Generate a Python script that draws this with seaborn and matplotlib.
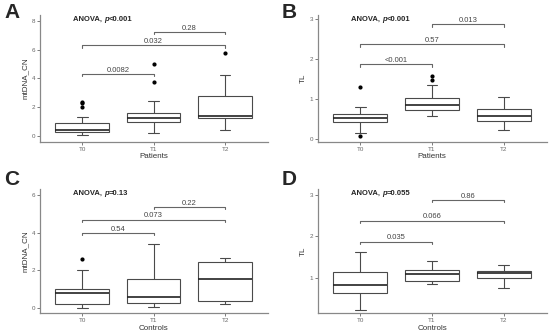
import numpy as np
import pandas as pd
import matplotlib
matplotlib.use("Agg")
import matplotlib.pyplot as plt
import seaborn as sns

times = ["T0", "T1", "T2"]

# values (whisker ends, quartiles, median, outliers)
a_t0 = [0.07, 0.07, 0.30, 0.30, 0.30, 0.44, 0.44, 0.44, 0.44, 0.90, 0.90, 0.90, 0.90, 1.36, 2.03, 2.30, 2.40]
a_t1 = [0.25, 0.25, 0.97, 0.97, 0.97, 1.27, 1.27, 1.27, 1.27, 1.64, 1.64, 1.64, 1.64, 2.42, 2.42, 3.73, 5.02]
a_t2 = [0.44, 0.44, 1.29, 1.29, 1.29, 1.43, 1.43, 1.43, 1.43, 2.81, 2.81, 2.81, 2.81, 4.26, 4.26, 4.26, 5.78]

b_t0 = [0.09, 0.16, 0.44, 0.44, 0.44, 0.54, 0.54, 0.54, 0.54, 0.63, 0.63, 0.63, 0.63, 0.80, 0.80, 0.80, 1.31]
b_t1 = [0.57, 0.57, 0.73, 0.73, 0.73, 0.86, 0.86, 0.86, 0.86, 1.02, 1.02, 1.02, 1.02, 1.36, 1.36, 1.48, 1.57]
b_t2 = [0.24, 0.24, 0.45, 0.45, 0.45, 0.58, 0.58, 0.58, 0.58, 0.76, 0.76, 0.76, 0.76, 1.05, 1.05, 1.05, 1.05]

c_t0 = [0.00, 0.00, 0.24, 0.24, 0.24, 0.80, 0.80, 0.80, 0.80, 1.00, 1.00, 1.00, 1.00, 2.02, 2.02, 2.02, 2.62]
c_t1 = [0.05, 0.05, 0.26, 0.26, 0.26, 0.58, 0.58, 0.58, 0.58, 1.53, 1.53, 1.53, 1.53, 3.40, 3.40, 3.40, 3.40]
c_t2 = [0.21, 0.21, 0.40, 0.40, 0.40, 1.55, 1.55, 1.55, 1.55, 2.43, 2.43, 2.43, 2.43, 2.67, 2.67, 2.67, 2.67]

d_t0 = [0.26, 0.26, 0.65, 0.65, 0.65, 0.85, 0.85, 0.85, 0.85, 1.15, 1.15, 1.15, 1.15, 1.62, 1.62, 1.62, 1.62]
d_t1 = [0.86, 0.86, 0.95, 0.95, 0.95, 1.11, 1.11, 1.11, 1.11, 1.20, 1.20, 1.20, 1.20, 1.41, 1.41, 1.41, 1.41]
d_t2 = [0.77, 0.77, 1.00, 1.00, 1.00, 1.12, 1.12, 1.12, 1.12, 1.17, 1.17, 1.17, 1.17, 1.33, 1.33, 1.33, 1.33]

# pairwise comparison brackets: (from, to), height, p label
a_pairs = [(0, 1), (0, 2), (1, 2)]
a_heights = [4.31, 6.29, 7.21]
a_labels = ["0.0082", "0.032", "0.28"]
b_heights = [1.87, 2.37, 2.87]
b_labels = ["<0.001", "0.57", "0.013"]
c_heights = [3.98, 4.69, 5.34]
c_labels = ["0.54", "0.073", "0.22"]
d_heights = [1.87, 2.37, 2.87]
d_labels = ["0.035", "0.066", "0.86"]

anova = ["<0.001", "<0.001", "=0.13", "=0.055"]

sns.set_style("white")
plt.rcParams["font.family"] = ["Liberation Sans", "DejaVu Sans"]

fig = plt.figure(figsize=(5.5, 3.34), dpi=100)


def panel(rect, groups, ylab, xlab, ylim, yticks, heights, labels, ptxt, letter, letter_xy):
    ax = fig.add_axes(rect)
    df = pd.DataFrame({
        "time": np.repeat(times, [len(g) for g in groups]),
        "value": np.concatenate(groups),
    })
    sns.boxplot(data=df, x="time", y="value", order=times, ax=ax,
                color="white", linecolor="#4a4a4a", linewidth=0.8,
                width=0.75, fliersize=2.0, saturation=1,
                flierprops=dict(marker="o", markerfacecolor="black",
                                markeredgecolor="black"),
                medianprops=dict(color="#222222", linewidth=1.2),
                capwidths=0.15)
    ax.set_xlim(-0.59, 2.6)
    ax.set_ylim(*ylim)
    ax.set_yticks(yticks)
    ax.set_xlabel(xlab, fontsize=5.8, color="#333333", labelpad=1)
    ax.set_ylabel(ylab, fontsize=5.8, color="#333333", labelpad=2)
    ax.tick_params(axis="both", labelsize=4.5, colors="#666666", length=2,
                   width=0.6, pad=1.5, left=True, bottom=True)
    for s in ["top", "right"]:
        ax.spines[s].set_visible(False)
    for s in ["left", "bottom"]:
        ax.spines[s].set_color("#888888")
        ax.spines[s].set_linewidth(0.9)

    tick = (ylim[1] - ylim[0]) * 0.018
    for (i, j), h, lab in zip(a_pairs, heights, labels):
        ax.plot([i, i, j, j], [h - tick, h, h, h - tick], color="#666666", lw=0.8)
        ax.text((i + j) / 2, h + tick * 0.2, lab, ha="center", va="bottom",
                fontsize=5.5, color="#444444")

    t1 = ax.text(0.145, 0.965, "ANOVA, ", transform=ax.transAxes,
                 fontsize=5.5, fontweight="bold", va="center", ha="left")
    t2 = ax.annotate("p", xy=(1, 0), xycoords=t1, fontsize=5.5,
                     fontweight="bold", fontstyle="italic", va="bottom")
    ax.annotate(ptxt, xy=(1, 0), xycoords=t2, fontsize=5.5,
                fontweight="bold", va="bottom")

    fig.text(letter_xy[0], letter_xy[1], letter, fontsize=15,
             fontweight="bold", va="top", ha="left")
    return ax


panel([0.0727, 0.575, 0.4145, 0.380], [a_t0, a_t1, a_t2], "mtDNA_CN", "Patients",
      (-0.4, 8.4), [0, 2, 4, 6, 8], a_heights, a_labels, anova[0], "A", (0.008, 0.99))
panel([0.578, 0.575, 0.416, 0.380], [b_t0, b_t1, b_t2], "TL", "Patients",
      (-0.07, 3.1), [0, 1, 2, 3], b_heights, b_labels, anova[1], "B", (0.512, 0.99))
panel([0.0727, 0.062, 0.4145, 0.372], [c_t0, c_t1, c_t2], "mtDNA_CN", "Controls",
      (-0.26, 6.3), [0, 2, 4, 6], c_heights, c_labels, anova[2], "C", (0.008, 0.49))
panel([0.578, 0.062, 0.416, 0.372], [d_t0, d_t1, d_t2], "TL", "Controls",
      (0.17, 3.13), [1, 2, 3], d_heights, d_labels, anova[3], "D", (0.512, 0.49))

fig.savefig("out.png", dpi=100)
